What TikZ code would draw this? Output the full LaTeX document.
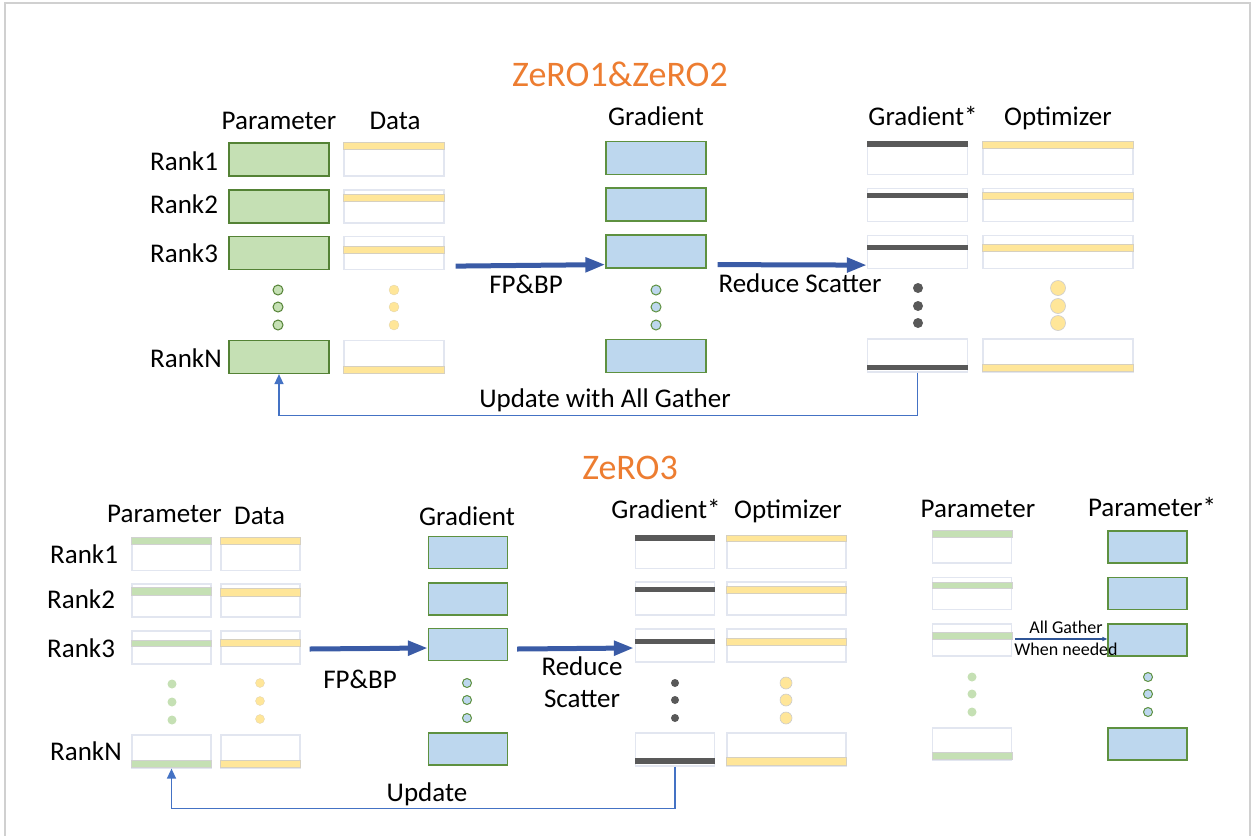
\documentclass[tikz,border=0pt]{standalone}
\usepackage{fontspec}
\setmainfont{Carlito}
\usetikzlibrary{calc,arrows.meta}
\definecolor{gfill}{HTML}{C5E0B4}
\definecolor{gdraw}{HTML}{548235}
\definecolor{bfill}{HTML}{BDD7EE}
\definecolor{bdraw}{HTML}{5E9140}
\definecolor{yfill}{HTML}{FFE699}
\definecolor{ystroke}{HTML}{D6D0C0}
\definecolor{dk}{HTML}{595959}
\definecolor{eline}{HTML}{E2E6F0}
\definecolor{arrowc}{HTML}{3A5BA6}
\definecolor{thinc}{HTML}{4472C4}
\definecolor{agc}{HTML}{2F5597}
\definecolor{orng}{HTML}{ED7D31}
\definecolor{framec}{HTML}{D0D0D0}
\newcommand\stripe[4]{\path[#4] ($(#1.north west)+(0,#2)$) rectangle ($(#1.north east)+(0,#3)$);}
\begin{document}
\begin{tikzpicture}[x=1pt,y=-1pt,
  lbl/.style={font=\fontsize{27}{30}\selectfont, inner sep=0pt, anchor=base},
  rk/.style={lbl, anchor=base west},
  ttl/.style={font=\fontsize{36}{40}\selectfont, text=orng, inner sep=0pt, anchor=base},
  small/.style={font=\fontsize{18}{20}\selectfont, inner sep=0pt, anchor=base},
  bx/.style={inner sep=0pt, line width=1.2pt},
  gbox/.style={bx, draw=gdraw, fill=gfill},
  bbox/.style={bx, draw=bdraw, fill=bfill},
  ebox/.style={bx, draw=eline, fill=white},
  tw/.style={minimum width=100pt, minimum height=33pt},
  tow/.style={minimum width=150pt, minimum height=33pt},
  bw/.style={minimum width=79pt, minimum height=33pt},
  bow/.style={minimum width=119pt, minimum height=33pt},
  ys/.style={fill=yfill, draw=ystroke, line width=0.6pt},
  ks/.style={fill=dk},
  gs/.style={fill=gfill, draw=black!18, line width=0.5pt},
  big/.style={draw=arrowc, line width=5pt, -{Triangle[length=20pt,width=14pt]}},
  thin/.style={draw=thinc, line width=1.5pt, -{Triangle[length=10pt,width=9pt]}},
  ag/.style={draw=agc, line width=1.8pt, -{Triangle[length=5pt,width=4pt]}},
  gdot/.style={fill=gfill, draw=gdraw, line width=1pt},
  ydot/.style={fill=yfill, draw=yfill!80!black!60, line width=0.3pt},
  bdot/.style={fill=bfill, draw=bdraw, line width=1pt},
  kdot/.style={fill=dk},
  lgdot/.style={fill=gfill},
  yldot/.style={fill=yfill, draw=black!20, line width=0.6pt}
]
\useasboundingbox (0,0) rectangle (1257,835);
\fill[white] (0,0) rectangle (1257,835);
\draw[framec, line width=1.5pt] (5,845) -- (5,3) -- (1250,3) -- (1250,845);

% ================= ZeRO1 & ZeRO2 =================
\node[ttl] (t1) at (620,86) {ZeRO1\&ZeRO2};
\node[lbl] (hp) at (279,129) {Parameter};
\node[lbl] (hd) at (395,129) {Data};
\node[lbl] (hg) at (656,125) {Gradient};
\node[lbl] (hs) at (923,125) {Gradient*};
\node[lbl] (ho) at (1058,125) {Optimizer};
\node[rk] (r1) at (150,170) {Rank1};
\node[rk] (r2) at (150,213) {Rank2};
\node[rk] (r3) at (150,262) {Rank3};
\node[rk] (r4) at (150,367) {RankN};

\foreach \n/\y in {1/159.5,2/206.5,3/253,4/357}{
  \node[gbox,tw] (p\n) at (279,\y) {};
  \node[ebox,tw] (d\n) at (394,\y) {};
}
\foreach \n/\y in {1/158,2/204.5,3/251.5,4/356}{
  \node[bbox,tw] (g\n) at (656,\y) {};
}
\foreach \n/\y in {1/158,2/205,3/252,4/355.5}{
  \node[ebox,tw] (s\n) at (917.5,\y) {};
  \node[ebox,tow] (o\n) at (1058,\y) {};
}
\stripe{d1}{0}{7}{ys}\stripe{d2}{5}{12}{ys}\stripe{d3}{10}{17}{ys}\stripe{d4}{26}{33}{ys}
\stripe{s1}{0}{6}{ks}\stripe{s2}{5}{10}{ks}\stripe{s3}{10}{15}{ks}\stripe{s4}{27}{32}{ks}
\stripe{o1}{0}{7}{ys}\stripe{o2}{4}{11}{ys}\stripe{o3}{9}{16}{ys}\stripe{o4}{26}{33}{ys}

\foreach \y in {290,307,325}{
  \path[gdot] (278,\y) circle (5pt);
  \path[ydot] (394,\y) circle (5pt);
  \path[bdot] (656,\y) circle (5pt);
}
\foreach \y in {288,306,323}{
  \path[kdot] (918,\y) circle (5pt);
  \path[yldot] (1058,\y) circle (7.5pt);
}

\draw[big] ($(d3.south east)+(11,-4)$) -- ($(g3.south west)+(0,-4)$);
\node[lbl] (fb1) at (526,293) {FP\&BP};
\draw[big] ($(g3.south east)+(11,-4)$) -- ($(s3.south west)+(0,-4)$);
\node[lbl] (rs1) at (800,292) {Reduce Scatter};

\draw[thin] (s4.south) -- ++(0,43) -| (p4.south);
\node[lbl] (u1) at (605,407) {Update with All Gather};

% ================= ZeRO3 =================
\node[ttl] (t2) at (630,479) {ZeRO3};
\node[lbl, anchor=base west] (hp2) at (107,522) {Parameter};
\node[lbl, anchor=base west] (hd2) at (234,524) {Data};
\node[lbl] (hg2) at (467,525) {Gradient};
\node[lbl] (hs2) at (666,518) {Gradient*};
\node[lbl] (ho2) at (788,518) {Optimizer};
\node[lbl] (hr2) at (978,517) {Parameter};
\node[lbl] (hv2) at (1152,516) {Parameter*};
\node[rk] (rb1) at (50,563) {Rank1};
\node[rk] (rb2) at (47,608) {Rank2};
\node[rk] (rb3) at (47,657) {Rank3};
\node[rk] (rb4) at (50,760) {RankN};

\foreach \n/\y in {1/554,2/600.5,3/647.5,4/751.5}{
  \node[ebox,bw] (q\n) at (171.5,\y) {};
  \node[ebox,bw] (e\n) at (260.5,\y) {};
}
\foreach \n/\y in {1/552.5,2/599,3/644.5,4/749}{
  \node[bbox,bw,minimum height=32pt] (h\n) at (468,\y) {};
}
\foreach \n/\y in {1/552,2/598.5,3/645.5,4/749.5}{
  \node[ebox,bw] (t\n) at (675,\y) {};
  \node[ebox,bow] (u\n) at (786.5,\y) {};
}
\foreach \n/\y in {1/547,2/593.5,3/640,4/744}{
  \node[ebox,bw,minimum height=32pt] (w\n) at (972,\y) {};
  \node[bbox,bw,minimum height=32pt] (v\n) at (1147.5,\y) {};
}
\stripe{q1}{0}{7}{gs}\stripe{q2}{4}{12}{gs}\stripe{q3}{10}{16}{gs}\stripe{q4}{26}{33}{gs}
\stripe{e1}{0}{7}{ys}\stripe{e2}{5}{13}{ys}\stripe{e3}{9}{16}{ys}\stripe{e4}{26}{33}{ys}
\stripe{t1}{0}{6}{ks}\stripe{t2}{6}{11}{ks}\stripe{t3}{11}{16}{ks}\stripe{t4}{26}{32}{ks}
\stripe{u1}{0}{6}{ys}\stripe{u2}{5}{12}{ys}\stripe{u3}{10}{17}{ys}\stripe{u4}{25}{33}{ys}
\stripe{w1}{0}{7}{gs}\stripe{w2}{5}{11}{gs}\stripe{w3}{9}{16}{gs}\stripe{w4}{25}{32}{gs}

\foreach \y in {684,702,720}{ \path[lgdot] (172,\y) circle (4.5pt); }
\foreach \y in {683,701,719}{ \path[ydot] (260,\y) circle (4.5pt); }
\foreach \y in {683,700,718}{
  \path[bdot] (467,\y) circle (4.5pt);
  \path[kdot] (675,\y) circle (4pt);
  \path[yldot] (786,\y) circle (6pt);
}
\foreach \y in {677,694,712}{
  \path[lgdot] (972,\y) circle (4.5pt);
  \path[bdot] (1148,\y) circle (4.5pt);
}

\draw[big] ($(e3.east)+(9,1.5)$) -- ($(h3.west)+(0,3.5)$);
\node[lbl] (fb2) at (360,688) {FP\&BP};
\draw[big] ($(h3.east)+(9,4.5)$) -- ($(t3.west)+(-1,2.5)$);
\node[lbl] (rs2a) at (582,675) {Reduce};
\node[lbl] (rs2b) at (582,707) {Scatter};

\draw[thin] (t4.south) -- ++(0,42) -| (q4.south);
\node[lbl] (u2) at (427,801) {Update};

\draw[ag] ($(w3.east)+(3,-1)$) -- ($(v3.west)+(0,-1)$);
\node[small] (ag1) at (1066,633) {All Gather};
\node[small] (ag2) at (1066,655) {When needed};
\end{tikzpicture}
\end{document}
